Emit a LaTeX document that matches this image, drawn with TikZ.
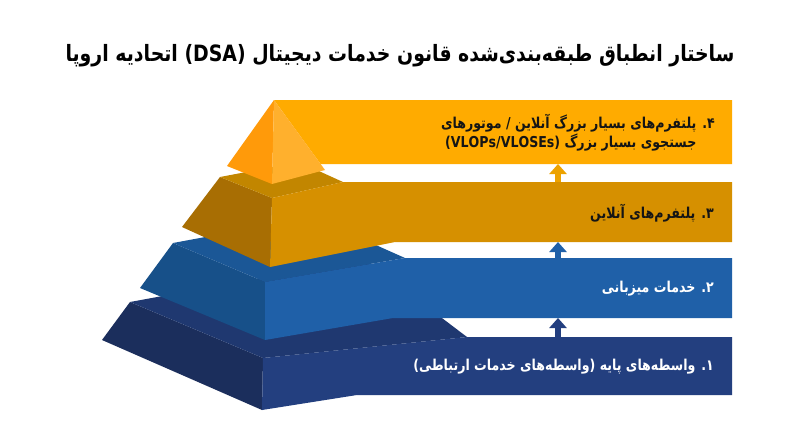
\documentclass[tikz,border=0pt]{standalone}
\usepackage{fontspec}
\setmainfont{DejaVu Sans}
\newfontfamily\arabicfont[Script=Arabic, FakeStretch=0.84]{DejaVu Sans}
\TeXXeTstate=1
\usetikzlibrary{arrows.meta}
\definecolor{navyB}{HTML}{233F7F}
\definecolor{navyL}{HTML}{1B2E5C}
\definecolor{navyT}{HTML}{1F3870}
\definecolor{blueB}{HTML}{1F60A8}
\definecolor{blueL}{HTML}{175089}
\definecolor{blueT}{HTML}{1B5796}
\definecolor{goldB}{HTML}{D69000}
\definecolor{goldL}{HTML}{A86E03}
\definecolor{goldT}{HTML}{C28600}
\definecolor{orgB}{HTML}{FFAB00}
\definecolor{orgL}{HTML}{FF9A0A}
\definecolor{orgR}{HTML}{FFB02D}
\definecolor{arrO}{HTML}{EDA200}
\definecolor{txtK}{HTML}{151515}
\tikzset{
  face/.style={draw=none},
  lbl/.style={font=\arabicfont\bfseries\fontsize{15}{20}\selectfont, inner sep=0pt},
  ttl/.style={font=\arabicfont\bfseries\fontsize{22.5}{26}\selectfont, inner sep=0pt, text=black},
  uparrow/.style={line width=6pt, -{Triangle[width=17pt,length=10pt]}}
}
\begin{document}
\begin{tikzpicture}[x=1pt,y=-1pt]
\useasboundingbox[fill=white] (0,0) rectangle (800,447);
% tier 1
\fill[navyL] (102,340) -- (130,302) -- (263,358) -- (262,410) -- cycle;
\fill[navyT] (130,302) -- (263,358) -- (467,337) -- (364,259) -- cycle;
\fill[navyB] (263,358) -- (467,337) -- (732,337) -- (732,395) -- (357,395) -- (262,410) -- cycle;
% tier 2
\fill[blueL] (140,288) -- (173,243) -- (265,282) -- (265,340) -- cycle;
\fill[blueT] (173,243) -- (265,282) -- (405,258) -- (313,217) -- cycle;
\fill[blueB] (265,282) -- (405,258) -- (732,258) -- (732,318) -- (393,318) -- (265,340) -- cycle;
% tier 3
\fill[goldL] (182,227) -- (220,177) -- (272,198) -- (270,267) -- cycle;
\fill[goldT] (220,177) -- (272,198) -- (343,182) -- (299,162) -- cycle;
\fill[goldB] (272,198) -- (343,182) -- (732,182) -- (732,242) -- (395,242) -- (270,267) -- cycle;
% tier 4
\fill[orgB] (274,100) -- (732,100) -- (732,164) -- (320.6,164) -- cycle;
\fill[orgL] (274,100) -- (227,166) -- (272,184) -- cycle;
\fill[orgR] (274,100) -- (325,170) -- (272,184) -- cycle;
% arrow anchors
\coordinate (b3top) at (558,182);
\coordinate (b4bot) at (558,164);
\coordinate (b2top) at (558,258);
\coordinate (b3bot) at (558,242);
\coordinate (b1top) at (558,337);
\coordinate (b2bot) at (558,318);
\draw[uparrow, arrO] (b3top) -- (b4bot);
\draw[uparrow, blueB] (b2top) -- (b3bot);
\draw[uparrow, navyB] (b1top) -- (b2bot);
% title
\node[ttl] (title) at (400,56) {\beginR ساختار انطباق طبقه‌بندی‌شده قانون خدمات دیجیتال \beginL(DSA)\endL{} اتحادیه اروپا\endR};
% labels
\node[lbl, text=txtK, anchor=east] (t4a) at (715,123) {\beginR ۴\kern0pt. پلتفرم‌های بسیار بزرگ آنلاین / موتورهای\endR};
\node[lbl, text=txtK, anchor=west] (t4b) at (445,143) {\beginR جستجوی بسیار بزرگ \beginL(VLOPs/VLOSEs)\endL\endR};
\node[lbl, text=txtK, anchor=east] (t3) at (714,213) {\beginR ۳\kern0pt. پلتفرم‌های آنلاین\endR};
\node[lbl, text=white, anchor=east] (t2) at (714,289) {\beginR ۲\kern0pt. خدمات میزبانی\endR};
\node[lbl, text=white, anchor=east] (t1) at (714,367) {\beginR ۱\kern0pt. واسطه‌های پایه (واسطه‌های خدمات ارتباطی)\endR};
\end{tikzpicture}
\end{document}
